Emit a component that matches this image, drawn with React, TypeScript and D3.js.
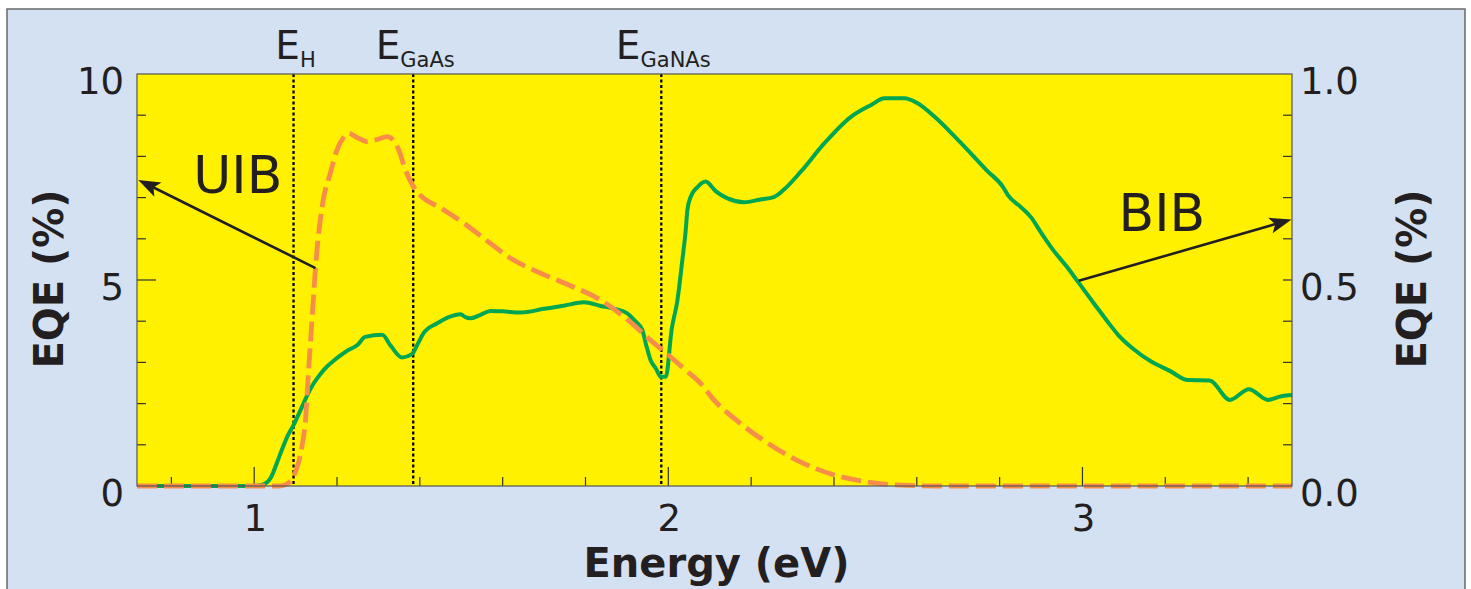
import React from "react";
import * as d3 from "d3";

// ---- data ----
const bibEnergy = [0.717, 1.0, 1.02, 1.04, 1.06, 1.08, 1.095, 1.11, 1.126, 1.143, 1.16, 1.176, 1.192, 1.21, 1.224, 1.25, 1.268, 1.309, 1.33, 1.357, 1.381, 1.395, 1.409, 1.442, 1.47, 1.498, 1.51, 1.522, 1.545, 1.571, 1.6, 1.643, 1.7, 1.75, 1.796, 1.837, 1.87, 1.901, 1.92, 1.937, 1.947, 1.957, 1.97, 1.982, 1.994, 2.008, 2.022, 2.034, 2.042, 2.046, 2.054, 2.07, 2.09, 2.115, 2.143, 2.183, 2.22, 2.256, 2.28, 2.32, 2.377, 2.441, 2.49, 2.522, 2.57, 2.6, 2.643, 2.69, 2.731, 2.77, 2.808, 2.82, 2.85, 2.876, 2.9, 2.929, 2.96, 2.989, 3.03, 3.06, 3.086, 3.12, 3.166, 3.21, 3.255, 3.307, 3.356, 3.402, 3.448, 3.48, 3.506];
const bibEQE = [0, 0, 0.003, 0.02, 0.07, 0.12, 0.148, 0.18, 0.216, 0.248, 0.272, 0.29, 0.304, 0.318, 0.328, 0.343, 0.362, 0.367, 0.34, 0.312, 0.32, 0.345, 0.371, 0.395, 0.41, 0.417, 0.41, 0.407, 0.415, 0.425, 0.424, 0.421, 0.43, 0.438, 0.446, 0.437, 0.43, 0.419, 0.4, 0.379, 0.34, 0.306, 0.285, 0.265, 0.265, 0.38, 0.451, 0.55, 0.621, 0.67, 0.702, 0.725, 0.739, 0.715, 0.698, 0.689, 0.695, 0.702, 0.72, 0.763, 0.832, 0.896, 0.925, 0.941, 0.941, 0.93, 0.896, 0.85, 0.807, 0.765, 0.726, 0.706, 0.678, 0.652, 0.615, 0.573, 0.535, 0.496, 0.44, 0.4, 0.367, 0.335, 0.302, 0.28, 0.257, 0.256, 0.209, 0.235, 0.209, 0.218, 0.221];

const uibEnergy = [0.717, 1.06, 1.075, 1.088, 1.098, 1.108, 1.116, 1.123, 1.131, 1.14, 1.148, 1.164, 1.184, 1.2, 1.215, 1.228, 1.25, 1.272, 1.297, 1.321, 1.337, 1.349, 1.365, 1.385, 1.401, 1.45, 1.506, 1.56, 1.619, 1.675, 1.75, 1.837, 1.9, 1.957, 2.0, 2.04, 2.078, 2.11, 2.17, 2.24, 2.32, 2.4, 2.48, 2.56, 2.65, 3.506];
const uibEQE = [0, 0, 0.03, 0.12, 0.3, 0.6, 1.0, 1.5, 2.74, 4.1, 5.29, 6.78, 7.6, 8.16, 8.45, 8.56, 8.45, 8.36, 8.41, 8.48, 8.38, 8.16, 7.67, 7.26, 7.06, 6.75, 6.38, 5.97, 5.53, 5.24, 4.92, 4.51, 4.05, 3.54, 3.18, 2.83, 2.49, 2.09, 1.55, 1.04, 0.58, 0.27, 0.1, 0.02, 0, 0];

const xTicks = [0.8, 1.0, 1.2, 1.4, 1.6, 1.8, 2.0, 2.2, 2.4, 2.6, 2.8, 3.0, 3.2, 3.4];
const xTickLabels = [1, 2, 3];
const leftTicks = [1, 2, 3, 4, 5, 6, 7, 8, 9];
const leftTickLabels = [0, 5, 10];
const rightTicks = [0.1, 0.2, 0.3, 0.4, 0.5, 0.6, 0.7, 0.8, 0.9];
const rightTickLabels = ["0.0", "0.5", "1.0"];
const rightTickValues = [0, 0.5, 1.0];

const markerEnergy = [1.095, 1.384, 1.983];
const markerSub = ["H", "GaAs", "GaNAs"];

// ---- layout ----
const W = 1471, H = 589;
const L = 137, R = 1292, T = 74, B = 486;
const FONT = "'DejaVu Sans', Verdana, sans-serif";
const INK = "#231f20";

const x = d3.scaleLinear().domain([0.717, 3.506]).range([L, R]);
const yL = d3.scaleLinear().domain([0, 10]).range([B, T]);
const yR = d3.scaleLinear().domain([0, 1]).range([B, T]);

function Arrow({ x1, y1, x2, y2 }: { x1: number; y1: number; x2: number; y2: number }) {
  const dx = x2 - x1, dy = y2 - y1;
  const len = Math.hypot(dx, dy);
  const ux = dx / len, uy = dy / len;
  const hl = 22, hw = 8;
  const bx = x2 - ux * hl, by = y2 - uy * hl;
  const px = -uy, py = ux;
  const pts = `${x2},${y2} ${bx + px * hw},${by + py * hw} ${bx + ux * 5},${by + uy * 5} ${bx - px * hw},${by - py * hw}`;
  return (
    <g>
      <line x1={x1} y1={y1} x2={bx + ux * 6} y2={by + uy * 6} stroke={INK} strokeWidth={2.6} />
      <polygon points={pts} fill={INK} />
    </g>
  );
}

export default function App() {
  const greenLine = d3
    .line<number>()
    .x((_, i) => x(bibEnergy[i]))
    .y((d) => yR(d))
    .curve(d3.curveMonotoneX)(bibEQE) as string;
  const orangeLine = d3
    .line<number>()
    .x((_, i) => x(uibEnergy[i]))
    .y((d) => yL(d))
    .curve(d3.curveMonotoneX)(uibEQE) as string;

  return (
    <svg width={W} height={H} style={{ position: "absolute", left: 0, top: 0 }} fontFamily={FONT}>
      <rect x={0} y={0} width={W} height={H} fill="#ffffff" />
      <rect x={7} y={9} width={1458} height={620} fill="#d4e1f2" stroke="#6a6a6a" strokeWidth={1.5} />
      <defs>
        <clipPath id="plotclip">
          <rect x={L} y={T - 5} width={R - L} height={B - T + 10} />
        </clipPath>
      </defs>
      <rect x={L} y={T} width={R - L} height={B - T} fill="#fff100" />

      {/* ticks */}
      {xTicks.map((t) => {
        const major = Math.abs(t - Math.round(t)) < 1e-6;
        return <line key={"xt" + t} x1={x(t)} x2={x(t)} y1={B} y2={B - (major ? 19 : 9)} stroke="#333" strokeWidth={1.2} />;
      })}
      {leftTicks.map((t) => (
        <line key={"lt" + t} x1={L} x2={L + (t === 5 ? 19 : 9)} y1={yL(t)} y2={yL(t)} stroke="#333" strokeWidth={1.2} />
      ))}
      {rightTicks.map((t) => (
        <line key={"rt" + t} x1={R} x2={R - 9} y1={yR(t)} y2={yR(t)} stroke="#333" strokeWidth={1.2} />
      ))}

      {/* marker lines */}
      {markerEnergy.map((e) => (
        <line key={"m" + e} x1={x(e)} x2={x(e)} y1={T} y2={B} stroke="#000" strokeWidth={2.3} strokeDasharray="3,2.5" />
      ))}

      <g clipPath="url(#plotclip)">
        <path d={greenLine} fill="none" stroke="#00a651" strokeWidth={4} strokeLinejoin="round" />
        <path d={orangeLine} fill="none" stroke="#f78d48" strokeWidth={4.8} strokeDasharray="20,7" />
      </g>

      {/* plot frame */}
      <rect x={L} y={T} width={R - L} height={B - T} fill="none" stroke="#555" strokeWidth={1.2} />

      {/* arrows */}
      <Arrow x1={x(1.148)} y1={yL(5.29)} x2={x(0.72)} y2={yL(7.43)} />
      <Arrow x1={x(2.991)} y1={yR(0.498)} x2={x(3.505)} y2={yR(0.647)} />
      <text x={x(0.853)} y={yL(7.1)} fontSize={52} fill={INK}>UIB</text>
      <text x={x(3.087)} y={yR(0.619)} fontSize={52} fill={INK}>BIB</text>

      {/* marker labels */}
      {markerEnergy.map((e, i) => (
        <text key={"ml" + e} x={x(e) + 2} y={58.5} textAnchor="middle" fill={INK}>
          <tspan fontSize={39}>E</tspan>
          <tspan fontSize={21} dy={8}>{markerSub[i]}</tspan>
        </text>
      ))}

      {/* tick labels */}
      {xTickLabels.map((t) => (
        <text key={"xl" + t} x={x(t) + 1} y={531} textAnchor="middle" fontSize={37} fill={INK}>{t}</text>
      ))}
      {leftTickLabels.map((t) => (
        <text key={"ll" + t} x={124} y={yL(t) + 19.5} textAnchor="end" fontSize={37} fill={INK}>{t}</text>
      ))}
      {rightTickValues.map((t, i) => (
        <text key={"rl" + t} x={1300} y={yR(t) + 19.5} textAnchor="start" fontSize={37} fill={INK}>{rightTickLabels[i]}</text>
      ))}

      {/* axis titles */}
      <text x={(L + R) / 2 + 2} y={577} textAnchor="middle" fontSize={40} fontWeight="bold" fill={INK}>Energy (eV)</text>
      <text transform={`translate(63,${(T + B) / 2 - 1}) rotate(-90)`} textAnchor="middle" fontSize={40} fontWeight="bold" fill={INK}>EQE (%)</text>
      <text transform={`translate(1426,${(T + B) / 2 - 1}) rotate(-90)`} textAnchor="middle" fontSize={40} fontWeight="bold" fill={INK}>EQE (%)</text>
    </svg>
  );
}
